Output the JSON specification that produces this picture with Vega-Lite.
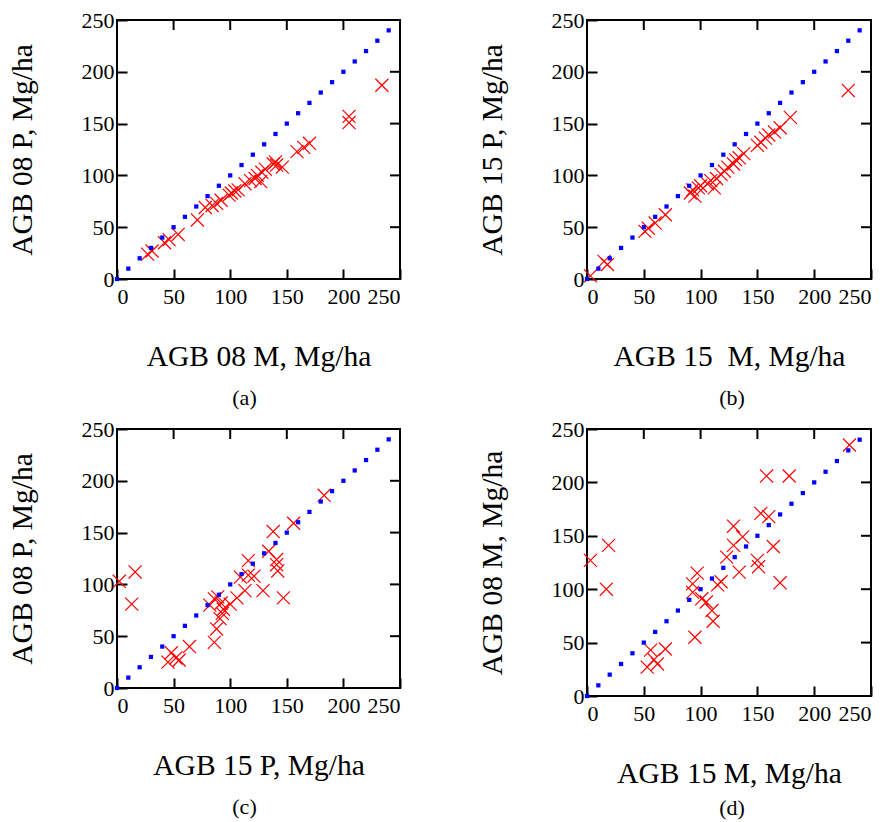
{
  "$schema": "https://vega.github.io/schema/vega-lite/v6.json",
  "padding": {"left": 6, "top": 8, "right": 0, "bottom": 0},
  "columns": 2,
  "spacing": {"row": 7, "column": 74},
  "datasets": {
    "diag": [
      {"x": 0, "y": 0}, {"x": 10, "y": 10}, {"x": 20, "y": 20}, {"x": 30, "y": 30}, {"x": 40, "y": 40},
      {"x": 50, "y": 50}, {"x": 60, "y": 60}, {"x": 70, "y": 70}, {"x": 80, "y": 80}, {"x": 90, "y": 90},
      {"x": 100, "y": 100}, {"x": 110, "y": 110}, {"x": 120, "y": 120}, {"x": 130, "y": 130}, {"x": 140, "y": 140},
      {"x": 150, "y": 150}, {"x": 160, "y": 160}, {"x": 170, "y": 170}, {"x": 180, "y": 180}, {"x": 190, "y": 190},
      {"x": 200, "y": 200}, {"x": 210, "y": 210}, {"x": 220, "y": 220}, {"x": 230, "y": 230}, {"x": 240, "y": 240}
    ],
    "ticks": [{"v": 50}, {"v": 100}, {"v": 150}, {"v": 200}],
    "a": [
      {"x": 27, "y": 24}, {"x": 31, "y": 27}, {"x": 42, "y": 35}, {"x": 46, "y": 38}, {"x": 54, "y": 43},
      {"x": 71, "y": 57}, {"x": 78, "y": 69}, {"x": 84, "y": 71}, {"x": 88, "y": 73}, {"x": 92, "y": 76},
      {"x": 99, "y": 81}, {"x": 101, "y": 83}, {"x": 104, "y": 85}, {"x": 107, "y": 86}, {"x": 113, "y": 92},
      {"x": 118, "y": 95}, {"x": 122, "y": 97}, {"x": 124, "y": 100}, {"x": 128, "y": 103}, {"x": 127, "y": 94},
      {"x": 131, "y": 106}, {"x": 138, "y": 111}, {"x": 140, "y": 113}, {"x": 141, "y": 110}, {"x": 146, "y": 108},
      {"x": 159, "y": 123}, {"x": 165, "y": 127}, {"x": 170, "y": 131}, {"x": 205, "y": 157}, {"x": 205, "y": 151},
      {"x": 234, "y": 187}
    ],
    "b": [
      {"x": 3, "y": 3}, {"x": 15, "y": 17}, {"x": 18, "y": 14}, {"x": 51, "y": 46}, {"x": 54, "y": 49},
      {"x": 60, "y": 54}, {"x": 69, "y": 62}, {"x": 91, "y": 83}, {"x": 93, "y": 86}, {"x": 95, "y": 80},
      {"x": 98, "y": 88}, {"x": 100, "y": 90}, {"x": 106, "y": 92}, {"x": 109, "y": 95}, {"x": 112, "y": 88},
      {"x": 114, "y": 97}, {"x": 118, "y": 101}, {"x": 121, "y": 104}, {"x": 124, "y": 108}, {"x": 129, "y": 111},
      {"x": 131, "y": 115}, {"x": 134, "y": 117}, {"x": 138, "y": 121}, {"x": 150, "y": 129}, {"x": 153, "y": 132},
      {"x": 157, "y": 136}, {"x": 160, "y": 139}, {"x": 165, "y": 142}, {"x": 170, "y": 146}, {"x": 179, "y": 156},
      {"x": 230, "y": 182}
    ],
    "c": [
      {"x": 2, "y": 103}, {"x": 16, "y": 112}, {"x": 13, "y": 81}, {"x": 48, "y": 34}, {"x": 45, "y": 25},
      {"x": 52, "y": 29}, {"x": 55, "y": 27}, {"x": 64, "y": 40}, {"x": 86, "y": 44}, {"x": 88, "y": 57},
      {"x": 91, "y": 67}, {"x": 93, "y": 72}, {"x": 94, "y": 76}, {"x": 82, "y": 80}, {"x": 86, "y": 86},
      {"x": 89, "y": 88}, {"x": 92, "y": 82}, {"x": 100, "y": 81}, {"x": 106, "y": 87}, {"x": 113, "y": 94},
      {"x": 109, "y": 107}, {"x": 116, "y": 109}, {"x": 121, "y": 108}, {"x": 116, "y": 123}, {"x": 129, "y": 94},
      {"x": 134, "y": 132}, {"x": 138, "y": 151}, {"x": 141, "y": 124}, {"x": 142, "y": 113}, {"x": 141, "y": 119},
      {"x": 147, "y": 87}, {"x": 156, "y": 159}, {"x": 183, "y": 186}
    ],
    "d": [
      {"x": 3, "y": 127}, {"x": 19, "y": 141}, {"x": 17, "y": 100}, {"x": 53, "y": 27}, {"x": 56, "y": 43},
      {"x": 59, "y": 34}, {"x": 62, "y": 30}, {"x": 69, "y": 44}, {"x": 95, "y": 55}, {"x": 93, "y": 105},
      {"x": 97, "y": 115}, {"x": 93, "y": 97}, {"x": 101, "y": 91}, {"x": 105, "y": 88}, {"x": 110, "y": 80},
      {"x": 111, "y": 70}, {"x": 115, "y": 104}, {"x": 118, "y": 107}, {"x": 123, "y": 130}, {"x": 129, "y": 141},
      {"x": 129, "y": 159}, {"x": 137, "y": 149}, {"x": 134, "y": 116}, {"x": 150, "y": 127}, {"x": 151, "y": 121},
      {"x": 153, "y": 171}, {"x": 160, "y": 168}, {"x": 164, "y": 140}, {"x": 170, "y": 106}, {"x": 158, "y": 206},
      {"x": 178, "y": 206}, {"x": 231, "y": 235}
    ]
  },
  "concat": [
    {
      "width": 283,
      "height": 259,
      "view": {"stroke": "black", "strokeWidth": 2},
      "title": {"text": "(a)", "orient": "bottom", "offset": 17, "dx": -14, "font": "Liberation Serif", "fontSize": 22, "fontWeight": "normal"},
      "layer": [
        {
          "data": {"name": "ticks"},
          "mark": {"type": "tick", "orient": "vertical", "color": "black", "size": 10, "thickness": 2, "yOffset": 5, "opacity": 1},
          "encoding": {
            "x": {"field": "v", "type": "quantitative", "scale": {"domain": [0, 250], "nice": false},
                  "axis": {"title": "AGB 08 M, Mg/ha", "grid": false, "domain": false, "tickCount": 5, "tickColor": "black", "tickWidth": 2, "tickSize": -10, "labelPadding": 17.5, "titlePadding": 35, "labelFont": "Liberation Serif", "labelFontSize": 22, "titleFont": "Liberation Serif", "titleFontSize": 29.5, "titleFontWeight": "normal"}},
            "y": {"datum": 250, "type": "quantitative", "scale": {"domain": [0, 250], "nice": false},
                  "axis": {"title": "AGB 08 P, Mg/ha", "grid": false, "domain": false, "tickCount": 5, "tickColor": "black", "tickWidth": 2, "tickSize": -10, "labelPadding": 13, "titlePadding": 44, "labelFont": "Liberation Serif", "labelFontSize": 22, "titleFont": "Liberation Serif", "titleFontSize": 29.5, "titleFontWeight": "normal"}}
          }
        },
        {
          "data": {"name": "ticks"},
          "mark": {"type": "tick", "orient": "horizontal", "color": "black", "size": 10, "thickness": 2, "xOffset": -5, "opacity": 1},
          "encoding": {
            "x": {"datum": 250, "type": "quantitative", "axis": {"title": "AGB 08 M, Mg/ha"}},
            "y": {"field": "v", "type": "quantitative", "axis": {"title": "AGB 08 P, Mg/ha"}}
          }
        },
        {
          "data": {"name": "a"},
          "mark": {"type": "point", "shape": "stroke", "angle": 45, "filled": false, "size": 340, "color": "#ff0000", "strokeWidth": 1.2, "opacity": 1},
          "encoding": {
            "x": {"field": "x", "type": "quantitative", "axis": {"title": "AGB 08 M, Mg/ha"}},
            "y": {"field": "y", "type": "quantitative", "axis": {"title": "AGB 08 P, Mg/ha"}}
          }
        },
        {
          "data": {"name": "a"},
          "mark": {"type": "point", "shape": "stroke", "angle": -45, "filled": false, "size": 340, "color": "#ff0000", "strokeWidth": 1.2, "opacity": 1},
          "encoding": {
            "x": {"field": "x", "type": "quantitative", "axis": {"title": "AGB 08 M, Mg/ha"}},
            "y": {"field": "y", "type": "quantitative", "axis": {"title": "AGB 08 P, Mg/ha"}}
          }
        },
        {
          "data": {"name": "diag"},
          "mark": {"type": "point", "shape": "square", "filled": true, "size": 18, "color": "#0000ff", "opacity": 1},
          "encoding": {
            "x": {"field": "x", "type": "quantitative", "axis": {"title": "AGB 08 M, Mg/ha"}},
            "y": {"field": "y", "type": "quantitative", "axis": {"title": "AGB 08 P, Mg/ha"}}
          }
        }
      ]
    },
    {
      "width": 284,
      "height": 259,
      "view": {"stroke": "black", "strokeWidth": 2},
      "title": {"text": "(b)", "orient": "bottom", "offset": 17, "dx": 3, "font": "Liberation Serif", "fontSize": 22, "fontWeight": "normal"},
      "layer": [
        {
          "data": {"name": "ticks"},
          "mark": {"type": "tick", "orient": "vertical", "color": "black", "size": 10, "thickness": 2, "yOffset": 5, "opacity": 1},
          "encoding": {
            "x": {"field": "v", "type": "quantitative", "scale": {"domain": [0, 250], "nice": false},
                  "axis": {"title": "AGB 15 \u00a0M, Mg/ha", "grid": false, "domain": false, "tickCount": 5, "tickColor": "black", "tickWidth": 2, "tickSize": -10, "labelPadding": 17.5, "titlePadding": 35, "labelFont": "Liberation Serif", "labelFontSize": 22, "titleFont": "Liberation Serif", "titleFontSize": 29.5, "titleFontWeight": "normal"}},
            "y": {"datum": 250, "type": "quantitative", "scale": {"domain": [0, 250], "nice": false},
                  "axis": {"title": "AGB 15 P, Mg/ha", "grid": false, "domain": false, "tickCount": 5, "tickColor": "black", "tickWidth": 2, "tickSize": -10, "labelPadding": 13, "titlePadding": 44, "labelFont": "Liberation Serif", "labelFontSize": 22, "titleFont": "Liberation Serif", "titleFontSize": 29.5, "titleFontWeight": "normal"}}
          }
        },
        {
          "data": {"name": "ticks"},
          "mark": {"type": "tick", "orient": "horizontal", "color": "black", "size": 10, "thickness": 2, "xOffset": -5, "opacity": 1},
          "encoding": {
            "x": {"datum": 250, "type": "quantitative", "axis": {"title": "AGB 15 \u00a0M, Mg/ha"}},
            "y": {"field": "v", "type": "quantitative", "axis": {"title": "AGB 15 P, Mg/ha"}}
          }
        },
        {
          "data": {"name": "b"},
          "mark": {"type": "point", "shape": "stroke", "angle": 45, "filled": false, "size": 340, "color": "#ff0000", "strokeWidth": 1.2, "opacity": 1},
          "encoding": {
            "x": {"field": "x", "type": "quantitative", "axis": {"title": "AGB 15 \u00a0M, Mg/ha"}},
            "y": {"field": "y", "type": "quantitative", "axis": {"title": "AGB 15 P, Mg/ha"}}
          }
        },
        {
          "data": {"name": "b"},
          "mark": {"type": "point", "shape": "stroke", "angle": -45, "filled": false, "size": 340, "color": "#ff0000", "strokeWidth": 1.2, "opacity": 1},
          "encoding": {
            "x": {"field": "x", "type": "quantitative", "axis": {"title": "AGB 15 \u00a0M, Mg/ha"}},
            "y": {"field": "y", "type": "quantitative", "axis": {"title": "AGB 15 P, Mg/ha"}}
          }
        },
        {
          "data": {"name": "diag"},
          "mark": {"type": "point", "shape": "square", "filled": true, "size": 18, "color": "#0000ff", "opacity": 1},
          "encoding": {
            "x": {"field": "x", "type": "quantitative", "axis": {"title": "AGB 15 \u00a0M, Mg/ha"}},
            "y": {"field": "y", "type": "quantitative", "axis": {"title": "AGB 15 P, Mg/ha"}}
          }
        }
      ]
    },
    {
      "width": 283,
      "height": 259,
      "view": {"stroke": "black", "strokeWidth": 2},
      "title": {"text": "(c)", "orient": "bottom", "offset": 17, "dx": -14, "font": "Liberation Serif", "fontSize": 22, "fontWeight": "normal"},
      "layer": [
        {
          "data": {"name": "ticks"},
          "mark": {"type": "tick", "orient": "vertical", "color": "black", "size": 10, "thickness": 2, "yOffset": 5, "opacity": 1},
          "encoding": {
            "x": {"field": "v", "type": "quantitative", "scale": {"domain": [0, 250], "nice": false},
                  "axis": {"title": "AGB 15 P, Mg/ha", "grid": false, "domain": false, "tickCount": 5, "tickColor": "black", "tickWidth": 2, "tickSize": -10, "labelPadding": 17.5, "titlePadding": 35, "labelFont": "Liberation Serif", "labelFontSize": 22, "titleFont": "Liberation Serif", "titleFontSize": 29.5, "titleFontWeight": "normal"}},
            "y": {"datum": 250, "type": "quantitative", "scale": {"domain": [0, 250], "nice": false},
                  "axis": {"title": "AGB 08 P, Mg/ha", "grid": false, "domain": false, "tickCount": 5, "tickColor": "black", "tickWidth": 2, "tickSize": -10, "labelPadding": 13, "titlePadding": 44, "labelFont": "Liberation Serif", "labelFontSize": 22, "titleFont": "Liberation Serif", "titleFontSize": 29.5, "titleFontWeight": "normal"}}
          }
        },
        {
          "data": {"name": "ticks"},
          "mark": {"type": "tick", "orient": "horizontal", "color": "black", "size": 10, "thickness": 2, "xOffset": -5, "opacity": 1},
          "encoding": {
            "x": {"datum": 250, "type": "quantitative", "axis": {"title": "AGB 15 P, Mg/ha"}},
            "y": {"field": "v", "type": "quantitative", "axis": {"title": "AGB 08 P, Mg/ha"}}
          }
        },
        {
          "data": {"name": "c"},
          "mark": {"type": "point", "shape": "stroke", "angle": 45, "filled": false, "size": 340, "color": "#ff0000", "strokeWidth": 1.2, "opacity": 1},
          "encoding": {
            "x": {"field": "x", "type": "quantitative", "axis": {"title": "AGB 15 P, Mg/ha"}},
            "y": {"field": "y", "type": "quantitative", "axis": {"title": "AGB 08 P, Mg/ha"}}
          }
        },
        {
          "data": {"name": "c"},
          "mark": {"type": "point", "shape": "stroke", "angle": -45, "filled": false, "size": 340, "color": "#ff0000", "strokeWidth": 1.2, "opacity": 1},
          "encoding": {
            "x": {"field": "x", "type": "quantitative", "axis": {"title": "AGB 15 P, Mg/ha"}},
            "y": {"field": "y", "type": "quantitative", "axis": {"title": "AGB 08 P, Mg/ha"}}
          }
        },
        {
          "data": {"name": "diag"},
          "mark": {"type": "point", "shape": "square", "filled": true, "size": 18, "color": "#0000ff", "opacity": 1},
          "encoding": {
            "x": {"field": "x", "type": "quantitative", "axis": {"title": "AGB 15 P, Mg/ha"}},
            "y": {"field": "y", "type": "quantitative", "axis": {"title": "AGB 08 P, Mg/ha"}}
          }
        }
      ]
    },
    {
      "width": 284,
      "height": 267,
      "view": {"stroke": "black", "strokeWidth": 2},
      "title": {"text": "(d)", "orient": "bottom", "offset": 10, "dx": 3, "font": "Liberation Serif", "fontSize": 22, "fontWeight": "normal"},
      "layer": [
        {
          "data": {"name": "ticks"},
          "mark": {"type": "tick", "orient": "vertical", "color": "black", "size": 10, "thickness": 2, "yOffset": 5, "opacity": 1},
          "encoding": {
            "x": {"field": "v", "type": "quantitative", "scale": {"domain": [0, 250], "nice": false},
                  "axis": {"title": "AGB 15 M, Mg/ha", "grid": false, "domain": false, "tickCount": 5, "tickColor": "black", "tickWidth": 2, "tickSize": -10, "labelPadding": 17.5, "titlePadding": 35, "labelFont": "Liberation Serif", "labelFontSize": 22, "titleFont": "Liberation Serif", "titleFontSize": 29.5, "titleFontWeight": "normal"}},
            "y": {"datum": 250, "type": "quantitative", "scale": {"domain": [0, 250], "nice": false},
                  "axis": {"title": "AGB 08 M, Mg/ha", "grid": false, "domain": false, "tickCount": 5, "tickColor": "black", "tickWidth": 2, "tickSize": -10, "labelPadding": 13, "titlePadding": 44, "labelFont": "Liberation Serif", "labelFontSize": 22, "titleFont": "Liberation Serif", "titleFontSize": 29.5, "titleFontWeight": "normal"}}
          }
        },
        {
          "data": {"name": "ticks"},
          "mark": {"type": "tick", "orient": "horizontal", "color": "black", "size": 10, "thickness": 2, "xOffset": -5, "opacity": 1},
          "encoding": {
            "x": {"datum": 250, "type": "quantitative", "axis": {"title": "AGB 15 M, Mg/ha"}},
            "y": {"field": "v", "type": "quantitative", "axis": {"title": "AGB 08 M, Mg/ha"}}
          }
        },
        {
          "data": {"name": "d"},
          "mark": {"type": "point", "shape": "stroke", "angle": 45, "filled": false, "size": 340, "color": "#ff0000", "strokeWidth": 1.2, "opacity": 1},
          "encoding": {
            "x": {"field": "x", "type": "quantitative", "axis": {"title": "AGB 15 M, Mg/ha"}},
            "y": {"field": "y", "type": "quantitative", "axis": {"title": "AGB 08 M, Mg/ha"}}
          }
        },
        {
          "data": {"name": "d"},
          "mark": {"type": "point", "shape": "stroke", "angle": -45, "filled": false, "size": 340, "color": "#ff0000", "strokeWidth": 1.2, "opacity": 1},
          "encoding": {
            "x": {"field": "x", "type": "quantitative", "axis": {"title": "AGB 15 M, Mg/ha"}},
            "y": {"field": "y", "type": "quantitative", "axis": {"title": "AGB 08 M, Mg/ha"}}
          }
        },
        {
          "data": {"name": "diag"},
          "mark": {"type": "point", "shape": "square", "filled": true, "size": 18, "color": "#0000ff", "opacity": 1},
          "encoding": {
            "x": {"field": "x", "type": "quantitative", "axis": {"title": "AGB 15 M, Mg/ha"}},
            "y": {"field": "y", "type": "quantitative", "axis": {"title": "AGB 08 M, Mg/ha"}}
          }
        }
      ]
    }
  ]
}
